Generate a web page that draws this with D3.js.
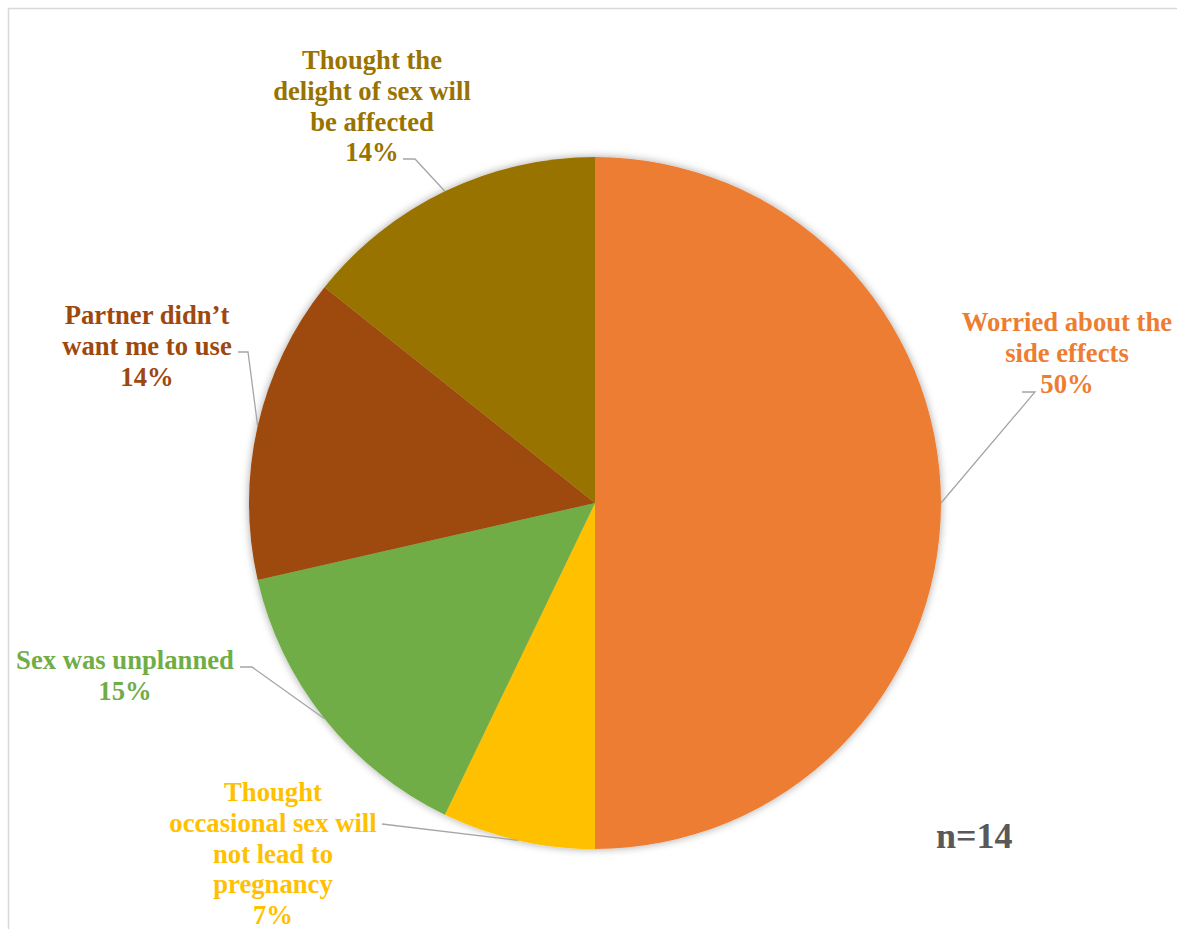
<!DOCTYPE html>
<html>
<head>
<meta charset="utf-8">
<script src="https://cdn.jsdelivr.net/npm/d3@7"></script>
<style>
    body { margin: 0; background: #fff; }
    svg { display: block; }
</style>
</head>
<body>
<div id="chart"></div>
<script>
// reasons for not using contraception (n=14)
var categories = [
        "Worried about the side effects",
        "Thought occasional sex will not lead to pregnancy",
        "Sex was unplanned",
        "Partner didn't want me to use",
        "Thought the delight of sex will be affected"
    ],
    counts = [7, 1, 2, 2, 2],
    percentLabels = ["50%", "7%", "15%", "14%", "14%"],
    // wrapped label lines as shown on the chart
    labelLines = [
        ["Worried about the", "side effects"],
        ["Thought", "occasional sex will", "not lead to", "pregnancy"],
        ["Sex was unplanned"],
        ["Partner didn\u2019t", "want me to use"],
        ["Thought the", "delight of sex will", "be affected"]
    ],
    colors = ["#ED7D31", "#FFC000", "#70AD47", "#9E480E", "#997300"];

// label layout: centre x, first line y, leader elbow point
var labelLayout = [
    { x: 1067, y: 322, elbow: [[1035, 392], [1022, 392]] },
    { x: 273, y: 792, elbow: [[382, 824]] },
    { x: 125, y: 660, elbow: [[252, 667], [240, 667]] },
    { x: 147, y: 315, elbow: [[248, 352], [238, 352]] },
    { x: 372, y: 60, elbow: [[415, 159], [403, 159]] }
];

window.onload = function()
{
    main();
};

function main()
{
    var width = 1177,
        height = 929,
        cx = 595,
        cy = 503,
        radius = 346,
        lineH = 30.7,
        svg = d3.select("#chart").append("svg")
            .attr("width", width)
            .attr("height", height);

    // chart area border
    svg.append("rect")
        .attr("x", 8.5)
        .attr("y", 8.5)
        .attr("width", width + 20)
        .attr("height", height + 20)
        .attr("fill", "none")
        .attr("stroke", "#D9D9D9")
        .attr("stroke-width", 1.5);

    // soft shadow like excel
    var filter = svg.append("defs").append("filter")
        .attr("id", "shadow")
        .attr("x", "-10%").attr("y", "-10%")
        .attr("width", "120%").attr("height", "120%");
    filter.append("feGaussianBlur")
        .attr("in", "SourceAlpha")
        .attr("stdDeviation", 4)
        .attr("result", "blur");
    filter.append("feComponentTransfer")
        .attr("in", "blur")
        .attr("result", "faded")
        .append("feFuncA").attr("type", "linear").attr("slope", 0.35);
    var merge = filter.append("feMerge");
    merge.append("feMergeNode").attr("in", "faded");
    merge.append("feMergeNode").attr("in", "SourceGraphic");

    var pie = d3.pie().sort(null).value(function(d) { return d; }),
        arcs = pie(counts),
        arc = d3.arc().innerRadius(0).outerRadius(radius),
        edgeArc = d3.arc().innerRadius(radius).outerRadius(radius);

    var g = svg.append("g")
        .attr("transform", "translate(" + cx + "," + cy + ")");

    var slices = g.append("g").attr("filter", "url(#shadow)");
    slices.selectAll("path")
        .data(arcs)
        .enter()
        .append("path")
        .attr("d", arc)
        .attr("fill", function(d, i) { return colors[i]; });

    // leader lines from label elbow to slice edge
    svg.selectAll("polyline.leader")
        .data(arcs)
        .enter()
        .append("polyline")
        .attr("class", "leader")
        .attr("fill", "none")
        .attr("stroke", "#A5A5A5")
        .attr("stroke-width", 1.3)
        .attr("points", function(d, i) {
            var c = edgeArc.centroid(d),
                pts = [[cx + c[0], cy + c[1]]].concat(labelLayout[i].elbow);
            return pts.map(function(p) { return p.join(","); }).join(" ");
        });

    // labels
    var labels = svg.selectAll("text.label")
        .data(arcs)
        .enter()
        .append("text")
        .attr("class", "label")
        .attr("text-anchor", "middle")
        .attr("font-family", "'Liberation Serif', 'Times New Roman', serif")
        .attr("font-weight", "bold")
        .attr("font-size", "26.67px")
        .attr("fill", function(d, i) { return colors[i]; });

    labels.each(function(d, i) {
        var t = d3.select(this),
            lines = labelLines[i].concat([percentLabels[i]]);
        lines.forEach(function(line, j) {
            t.append("tspan")
                .attr("x", labelLayout[i].x)
                .attr("y", labelLayout[i].y + j * lineH)
                .attr("dy", "0.35em")
                .text(line);
        });
    });

    // sample size
    svg.append("text")
        .attr("x", 936)
        .attr("y", 848)
        .attr("font-family", "'Liberation Serif', 'Times New Roman', serif")
        .attr("font-weight", "bold")
        .attr("font-size", "36px")
        .attr("fill", "#595959")
        .text("n=14");
}
</script>
</body>
</html>
